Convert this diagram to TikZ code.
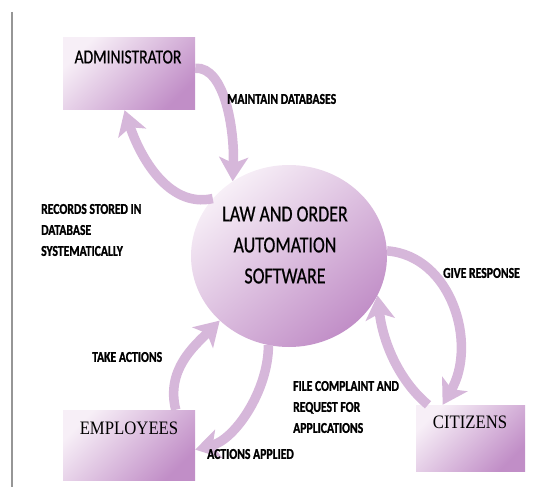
\documentclass[tikz,border=0pt]{standalone}
\usepackage{fontspec}
\usepackage{tikz}
\usetikzlibrary{shapes.geometric,arrows.meta}
\newfontfamily\lblfont[FakeStretch=0.78,FakeBold=0.6]{Carlito}
\newfontfamily\lblbold[FakeStretch=0.78,FakeBold=1.2]{Carlito}
\newfontfamily\boxfont[FakeStretch=0.88]{Liberation Serif}
\definecolor{boxlight}{RGB}{247,239,247}
\definecolor{boxdark}{RGB}{193,142,199}
\definecolor{arrowcol}{RGB}{214,183,218}
\definecolor{framegray}{RGB}{150,150,150}

\tikzset{
  box/.style={rectangle, inner sep=0pt, top color=boxlight, bottom color=boxdark, shading angle=45},
  hub/.style={ellipse, inner sep=0pt, top color=boxlight, bottom color=boxdark, shading angle=40},
  flowarrow/.style={line width=9.5pt, draw=arrowcol, -{Stealth[length=24pt,width=29pt,inset=6pt]}},
  lbl/.style={inner sep=0pt, font=\lblbold\bfseries\fontsize{15}{21}\selectfont, align=left},
}

\begin{document}
\begin{tikzpicture}[x=1pt,y=1pt,yscale=-1]
\useasboundingbox (0,0) rectangle (539,487);

%Straight Lines
\draw[framegray, line width=1.2pt] (12,12) -- (12,487);

% Boxes and hub
\node[box, minimum width=132, minimum height=72] (admin) at (129,74) {};
\node[box, minimum width=132, minimum height=70] (employees) at (129,445) {};
\node[box, minimum width=109, minimum height=66] (citizens) at (470.5,438) {};
\node[hub, minimum width=196, minimum height=182] (hub) at (289,256) {};

% Arrows
\draw[flowarrow] (admin.5) .. controls +(30,-2) and +(2,-50) .. (hub.127);
\draw[flowarrow] (hub.143) .. controls +(-45,10) and +(15,45) .. (admin.-97);
\draw[flowarrow] (hub.3) .. controls +(65,5) and +(35,-60) .. (citizens.130);
\draw[flowarrow] (citizens.142) .. controls +(-30,-25) and +(5,45) .. (hub.-24);
\draw[flowarrow] (employees.37) .. controls +(-10,-40) and +(-25,25) .. (hub.-137);
\draw[flowarrow] (hub.-103) .. controls +(0,45) and +(40,-10) .. (employees.-4);

% Text Node
\node[inner sep=0pt, font=\lblfont\fontsize{20}{24}\selectfont] (admintxt) at (128,57) {ADMINISTRATOR};
% Text Node
\node[inner sep=0pt, font=\boxfont\fontsize{19}{22}\selectfont] (emptxt) at (129,428) {EMPLOYEES};
% Text Node
\node[inner sep=0pt, font=\boxfont\fontsize{19}{22}\selectfont] (cittxt) at (470,422) {CITIZENS};
% Text Node
\node[inner sep=0pt, align=center, font=\lblfont\fontsize{23}{31}\selectfont] (hubtxt) at (285,245) {LAW AND ORDER\\AUTOMATION\\SOFTWARE};

% Text Node
\node[lbl, anchor=west] (maintain) at (227,99) {MAINTAIN DATABASES};
% Text Node
\node[lbl, anchor=west] (records) at (41,230) {RECORDS STORED IN\\DATABASE\\SYSTEMATICALLY};
% Text Node
\node[lbl, anchor=west] (response) at (443,273) {GIVE RESPONSE};
% Text Node
\node[lbl, anchor=west] (take) at (92,357) {TAKE ACTIONS};
% Text Node
\node[lbl, anchor=west] (complaint) at (293,407) {FILE COMPLAINT AND\\REQUEST FOR\\APPLICATIONS};
% Text Node
\node[lbl, anchor=west] (applied) at (207,454) {ACTIONS APPLIED};

\end{tikzpicture}
\end{document}
